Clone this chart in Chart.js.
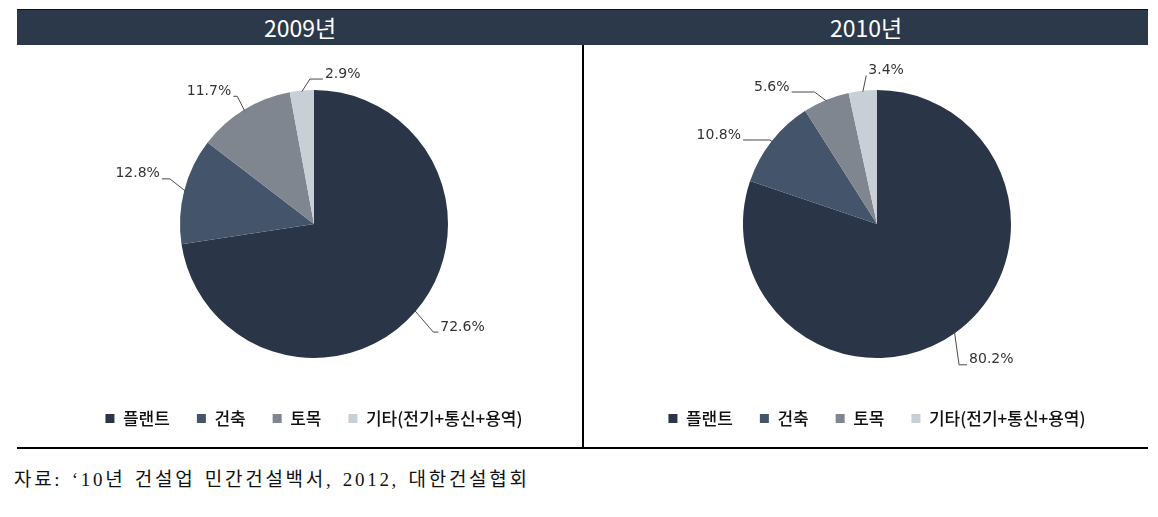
<!DOCTYPE html>
<html>
<head>
<meta charset="utf-8">
<script src="https://cdn.jsdelivr.net/npm/chart.js@4"></script>
<style>
  body { margin: 0; background: #fff; width: 1158px; height: 517px; position: relative; overflow: hidden; }
  .bar { position: absolute; left: 17px; top: 9px; width: 1131px; height: 36px; background: #2c394b; border-top: 1px solid #111; box-sizing: border-box; }
  .head { position: absolute; top: 9px; height: 36px; line-height: 36px; color: #fff; text-align: center;
          font-family: "Noto Sans CJK KR", sans-serif; font-size: 23px; }
  .vline { position: absolute; left: 582px; top: 45px; width: 2px; height: 403px; background: #000; }
  .hline { position: absolute; left: 17px; top: 447px; width: 1131px; height: 2px; background: #000; }
  .src { position: absolute; left: 14px; top: 464px; font-family: "Liberation Serif", "Noto Sans CJK KR", serif;
         font-size: 19px; letter-spacing: 2.7px; word-spacing: 2px; color: #111; }
  canvas { position: absolute; top: 46px; }
</style>
</head>
<body>
<div class="bar"></div>
<div class="head" style="left:17px;width:566px">2009년</div>
<div class="head" style="left:584px;width:564px">2010년</div>
<div class="vline"></div>
<div class="hline"></div>
<canvas id="pie2009" width="538" height="401" style="left:45px"></canvas>
<canvas id="pie2010" width="542" height="401" style="left:606px"></canvas>
<div class="src">자료: ‘10년 건설업 민간건설백서, 2012, 대한건설협회</div>

<script>
// categories and shares (%)
let categories = ['플랜트', '건축', '토목', '기타(전기+통신+용역)'];
let share2009 = [72.6, 12.8, 11.7, 2.9];
let share2010 = [80.2, 10.8, 5.6, 3.4];
let colors = ['#2b3548', '#44546a', '#7f8690', '#c9cfd7'];

// leader line label plugin (nudge in degrees, ext/tail in px)
let leaderLabels = {
    id: 'leaderLabels',
    afterDatasetsDraw(chart, args, opts) {
        let ctx = chart.ctx;
        let meta = chart.getDatasetMeta(0);
        let values = chart.data.datasets[0].data;
        ctx.save();
        ctx.strokeStyle = '#4a4a4a';
        ctx.lineWidth = 1;
        ctx.fillStyle = '#333333';
        ctx.font = '14px "DejaVu Sans", sans-serif';
        ctx.textBaseline = 'middle';
        meta.data.forEach((arc, i) => {
            let p = arc.getProps(['x', 'y', 'startAngle', 'endAngle', 'outerRadius'], true);
            let mid = (p.startAngle + p.endAngle) / 2;
            let a = mid + (opts.nudge[i] || 0) * Math.PI / 180;
            let r = p.outerRadius;
            let ex = p.x + Math.cos(mid) * (r - 1);
            let ey = p.y + Math.sin(mid) * (r - 1);
            let bx = p.x + Math.cos(a) * (r + opts.ext[i]);
            let by = p.y + Math.sin(a) * (r + opts.ext[i]);
            // sin from 12 o'clock = cos(a)
            let right = Math.cos(a) > -0.15;
            let tx = right ? bx + opts.tail[i] : bx - opts.tail[i];
            ctx.beginPath();
            ctx.moveTo(ex, ey);
            ctx.lineTo(bx, by);
            ctx.lineTo(tx, by);
            ctx.stroke();
            ctx.textAlign = right ? 'left' : 'right';
            ctx.fillText(values[i].toFixed(1) + '%', right ? tx + 2 : tx - 2, by - 5);
        });
        ctx.restore();
    }
};

function makePie(id, values, labelOpts) {
    return new Chart(document.getElementById(id), {
        type: 'pie',
        data: {
            labels: categories,
            datasets: [{
                data: values,
                backgroundColor: colors,
                borderWidth: 0
            }]
        },
        options: {
            responsive: false,
            animation: false,
            devicePixelRatio: 1,
            radius: 134,
            layout: { padding: { top: 19, bottom: 10, left: 0, right: 0 } },
            plugins: {
                legend: {
                    position: 'bottom',
                    labels: {
                        boxWidth: 9,
                        boxHeight: 9,
                        padding: 27,
                        color: '#111111',
                        font: { family: '"Noto Sans CJK KR", sans-serif', size: 17, weight: 500 }
                    }
                },
                tooltip: { enabled: false },
                leaderLabels: labelOpts
            }
        },
        plugins: [leaderLabels]
    });
}

makePie('pie2009', share2009, { nudge: [1.5, 3, 0.5, 3.6], ext: [27, 17, 15, 11], tail: [5, 8, 4, 13] });
makePie('pie2010', share2010, { nudge: [5.4, 0, -3, 2], ext: [29, 2, 12, 15], tail: [8, 27, 23, 0] });
</script>
</body>
</html>
